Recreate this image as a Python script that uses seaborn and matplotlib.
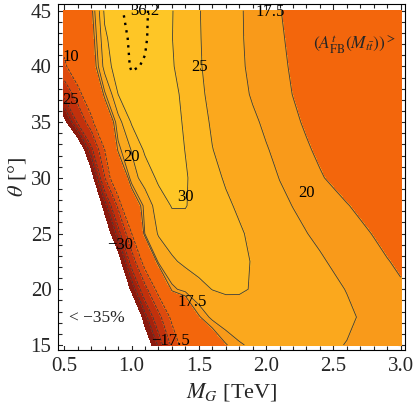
import numpy as np
import matplotlib
matplotlib.use("Agg")
import matplotlib.pyplot as plt
import seaborn as sns
from matplotlib.ticker import MultipleLocator, FormatStrFormatter

# grid: A_FB (%) vs M_G [TeV] (columns) and theta [deg] (rows)
m_g = [0.5, 0.6, 0.7, 0.8, 0.9, 1.0, 1.1, 1.2, 1.3, 1.4, 1.5, 1.6, 1.7,
       1.8, 1.9, 2.0, 2.1, 2.2, 2.3, 2.4, 2.5, 2.6, 2.7, 2.8, 2.9, 3.0]
theta = [45.0, 42.5, 40.0, 37.5, 35.0, 32.5, 30.0, 27.5, 25.0, 22.5, 20.0, 17.5, 15.0]
afb = [
    [0, 8, 16, 31, 34.3, 36.2, 35.4, 33.6, 30.2, 27.7, 25.2, 23.5, 21.9, 20.3, 19.3, 18.5, 17.6, 16.8, 16.0, 15.1, 14.2, 13.4, 12.6, 11.8, 11.0, 10.2],
    [-6, 3, 14, 29, 33.5, 35.6, 35.3, 33.4, 30.1, 27.8, 25.3, 23.5, 21.9, 20.3, 19.4, 18.6, 17.8, 17.0, 16.2, 15.4, 14.6, 13.8, 13.0, 12.3, 11.6, 10.9],
    [-12, -1, 12, 27, 33, 35.3, 34.8, 33.3, 30.4, 28.0, 25.4, 23.7, 22.1, 20.4, 19.5, 18.7, 18.0, 17.2, 16.5, 15.8, 15.1, 14.4, 13.7, 13.0, 12.3, 11.6],
    [-23, -14.1, -0.3, 19.2, 30.0, 33.6, 34.2, 33.0, 31.5, 28.7, 25.9, 23.9, 22.4, 20.9, 19.7, 19.0, 18.2, 17.45, 16.8, 16.1, 15.4, 14.7, 14.0, 13.3, 12.6, 12.2],
    [-38, -24, -13.3, 6.7, 23, 30.5, 32.5, 32.4, 32.0, 29.3, 26.6, 24.5, 23.2, 21.8, 20.5, 19.5, 18.7, 17.9, 17.2, 16.6, 16.0, 15.4, 14.8, 14.2, 13.6, 13.0],
    [-50, -45, -27, -10.3, 18.5, 25.3, 30.8, 32.0, 31.9, 29.9, 27.5, 25.1, 23.8, 22.6, 21.4, 20.2, 19.3, 18.5, 17.75, 17.1, 16.6, 16.0, 15.5, 15.0, 14.4, 13.9],
    [-55, -50, -40, -18, 1.7, 23, 27, 31.0, 31.4, 30.4, 28.3, 26.2, 24.55, 23.5, 22.4, 21.4, 19.9, 19.2, 18.4, 17.7, 17.1, 16.6, 16.1, 15.6, 15.2, 14.7],
    [-60, -55, -48, -33, -16, 8, 22, 27.3, 30.3, 30.2, 28.6, 27.2, 25.7, 24.4, 23.3, 22.2, 21.0, 19.9, 19.4, 18.8, 18.2, 17.6, 17.1, 16.6, 16.0, 15.5],
    [-65, -60, -55, -42, -28, -10.4, 20.5, 25.4, 27.3, 28.3, 28.5, 28.0, 26.8, 25.5, 24.2, 23.2, 22.1, 21.1, 20.05, 19.5, 19.0, 18.4, 17.9, 17.4, 16.8, 16.3],
    [-70, -65, -60, -52, -40, -22, -6, 21.5, 24.3, 26.0, 26.8, 27.0, 26.6, 25.8, 24.8, 23.9, 23.0, 22.1, 21.2, 20.3, 19.7, 19.2, 18.6, 18.1, 17.6, 17.1],
    [-75, -70, -65, -58, -50, -34, -20, -7, 19, 21.5, 23.7, 25.1, 25.6, 25.4, 24.8, 24.0, 23.3, 22.6, 21.9, 21.2, 20.5, 19.9, 19.2, 18.7, 18.2, 17.8],
    [-80, -75, -70, -65, -58, -50, -32, -20, -8, 5, 17.0, 21, 22.5, 23.3, 23.5, 23.3, 23.0, 22.6, 22.1, 21.5, 21.0, 20.5, 19.8, 19.3, 18.8, 18.3],
    [-85, -80, -75, -70, -65, -58, -42, -29, -16, -5, 5, 12, 17.2, 19.5, 20.8, 21.3, 21.4, 21.3, 21.0, 20.7, 20.3, 19.9, 19.6, 19.4, 19.2, 19.0],
]
levels = [-35, -30, -25, -17.5, -10, 17.5, 20, 25, 30]
max_level = 35.0
band_colors = ["#ffffff", "#8a1a0e", "#a6220c", "#c2310c", "#dd4a0e",
               "#f3660c", "#f99a1a", "#fba81d", "#fdb821", "#fec626"]

# contour labels as they sit in the picture
label_text = ["36.2", "17.5", "25", "10", "25", "20", "30", "20", "\u221230", "17.5", "\u221217.5"]
label_x = [1.10, 2.03, 1.507, 0.545, 0.545, 1.00, 1.40, 2.30, 0.915, 1.45, 1.29]
label_y = [45.0, 44.9, 39.9, 40.8, 37.0, 31.85, 28.25, 28.6, 23.95, 18.9, 15.33]

sns.set_style("ticks")
plt.rcParams['font.family'] = ['Liberation Serif', 'DejaVu Serif']
plt.rcParams['mathtext.fontset'] = 'stix'

fig = plt.figure(figsize=(4.13, 4.09), dpi=100)
ax = fig.add_axes([0.1416, 0.1443, 0.839, 0.8452])

Z = np.array(afb)
cf = ax.contourf(m_g, theta, Z, levels=[-500] + levels + [500], colors=band_colors)
cf.set_edgecolor("face")
cf.set_linewidth(0.5)
ax.contour(m_g, theta, Z, levels=levels[1:], colors="#3c3c3c", linewidths=0.6)
ax.contour(m_g, theta, Z, levels=[max_level], colors="black", linewidths=1.7,
           linestyles=[(0, (1, 2.2))])

for t, x, y in zip(label_text, label_x, label_y):
    ax.text(x, y, t, fontsize=12, ha="center", va="center", color="black")

ax.text(2.66, 41.9, r'$(A_{\mathrm{FB}}^{t}(M_{t\bar{t}}))^{>}$', fontsize=12.5,
        ha="center", va="center")
ax.text(0.745, 17.4, "< \u221235%", fontsize=12.5, ha="center", va="center")

ax.set_xlim(0.457, 3.032)
ax.set_ylim(14.55, 45.57)
ax.xaxis.set_major_locator(MultipleLocator(0.5))
ax.xaxis.set_minor_locator(MultipleLocator(0.1))
ax.yaxis.set_major_locator(MultipleLocator(5))
ax.yaxis.set_minor_locator(MultipleLocator(1))
ax.xaxis.set_major_formatter(FormatStrFormatter('%.1f'))
ax.tick_params(which="both", direction="in", top=True, right=True, width=0.8, labelsize=15)
ax.tick_params(which="major", length=5, pad=5)
ax.tick_params(which="minor", length=3)
for s in ax.spines.values():
    s.set_linewidth(0.8)
    s.set_color("black")

ax.set_xlabel(r'$M_G$ [TeV]', fontsize=16, labelpad=4)
ax.set_ylabel(r'$\theta$ [°]', fontsize=16, labelpad=2)

fig.savefig("out.png", dpi=100)
